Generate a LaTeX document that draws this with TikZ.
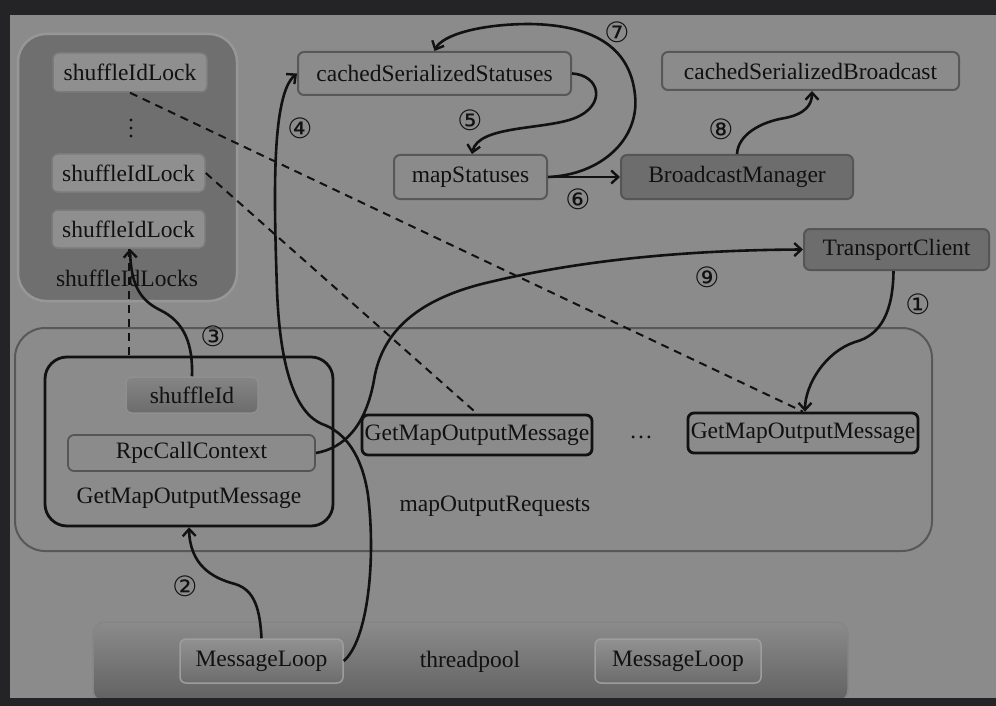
\documentclass[tikz,border=0pt]{standalone}
\usepackage{fontspec}
\setmainfont{Liberation Serif}
\newfontfamily\circfont{DejaVu Sans}
\usetikzlibrary{arrows.meta}
\definecolor{bggray}{HTML}{8B8B8B}
\definecolor{framec}{HTML}{242427}
\definecolor{groupc}{HTML}{6F6F6F}
\definecolor{inkc}{HTML}{111111}
\definecolor{edgec}{HTML}{585858}
\definecolor{lockfill}{HTML}{8F8F8F}
\definecolor{lockedge}{HTML}{7B7B7B}
\definecolor{darkfill}{HTML}{6D6D6D}
\definecolor{darkedge}{HTML}{555555}
\definecolor{shadetop}{HTML}{858585}
\definecolor{shadebot}{HTML}{6C6C6C}
\definecolor{haloc}{HTML}{979797}
\tikzset{
  lbl/.style={font=\fontsize{23.5}{27}\selectfont, text=inkc, inner sep=0pt},
  lockbox/.style={lbl, rounded corners=6pt, minimum width=153pt, minimum height=38pt, fill=lockfill, draw=lockedge, line width=1.5pt},
  plainbox/.style={lbl, rounded corners=6pt, fill=bggray, draw=edgec, line width=2pt},
  darkbox/.style={lbl, rounded corners=6pt, fill=darkfill, draw=darkedge, line width=2pt},
  blackbox/.style={lbl, rounded corners=6pt, draw=inkc, line width=2.8pt},
  shadebox/.style={lbl, rounded corners=6pt, top color=shadetop, bottom color=shadebot, draw=lockfill, line width=1.5pt},
  conn/.style={draw=inkc, line width=2.6pt, -{Straight Barb[length=7pt,width=13pt,line width=2.4pt]}},
  dashconn/.style={draw=inkc, line width=2pt, dash pattern=on 8pt off 6pt},
  num/.style={font=\circfont\fontsize{28}{28}\selectfont, text=inkc, inner sep=0pt},
}
\begin{document}
\begin{tikzpicture}[x=1pt,y=-1pt]
\useasboundingbox (0,0) rectangle (996,706);
\fill[bggray] (0,0) rectangle (996,706);

% shuffleIdLocks group
\node[draw=haloc, line width=2.5pt, fill=groupc, rounded corners=28pt,
      minimum width=219pt, minimum height=267pt, inner sep=0pt] (locks) at (127.5,167.5) {};
\node[lockbox, minimum width=154pt, minimum height=39pt] (lock1) at (130,72.5) {shuffleIdLock};
\node[lockbox] (lock2) at (128.5,173) {shuffleIdLock};
\node[lockbox] (lock3) at (128.5,229) {shuffleIdLock};
\foreach \yy in {120,128,136} \fill[inkc] (131,\yy) circle (1.6pt);
\node[lbl] (lockslbl) at (127,278) {shuffleIdLocks};

% top boxes
\node[plainbox, minimum width=273pt, minimum height=43pt] (css) at (434.5,73.5) {cachedSerializedStatuses};
\node[plainbox, minimum width=153pt, minimum height=44pt] (ms) at (470.5,177) {mapStatuses};
\node[darkbox, minimum width=232pt, minimum height=44pt] (bm) at (737,177) {BroadcastManager};
\node[plainbox, minimum width=297pt, minimum height=38pt] (csb) at (810.5,71) {cachedSerializedBroadcast};
\node[darkbox, minimum width=185pt, minimum height=41pt] (tc) at (896.5,249.5) {TransportClient};

% mapOutputRequests
\node[draw=edgec, line width=2pt, rounded corners=30pt, minimum width=917pt, minimum height=223pt, inner sep=0pt] (mor) at (473.5,439.5) {};
\node[draw=inkc, line width=2.8pt, rounded corners=22pt, minimum width=288pt, minimum height=169pt, inner sep=0pt] (gmc) at (189,441.5) {};
\node[shadebox, minimum width=132pt, minimum height=36pt] (sid) at (192,395) {shuffleId};
\node[plainbox, minimum width=247pt, minimum height=36pt, line width=1.8pt, draw=darkedge] (rpc) at (191.5,453) {RpcCallContext};
\node[lbl] (gmclbl) at (189,498) {GetMapOutputMessage};
\node[blackbox, minimum width=230pt, minimum height=40pt] (g2) at (477,435) {GetMapOutputMessage};
\node[lbl] (ell) at (641,437) {…};
\node[blackbox, minimum width=230pt, minimum height=40pt] (g3) at (803,433) {GetMapOutputMessage};
\node[lbl] (morlbl) at (495,506) {mapOutputRequests};

% threadpool
\node[rounded corners=12pt, top color=shadetop!95!white, bottom color=shadebot!90!black, draw=shadetop,
      line width=1.5pt, minimum width=755pt, minimum height=80pt, inner sep=0pt] (tp) at (470.5,662) {};
\node[shadebox, minimum width=163pt, minimum height=44pt, top color=shadetop!90!white, bottom color=shadebot, draw=shadetop!80!white] (ml1) at (261.5,661) {MessageLoop};
\node[lbl] (tplbl) at (470,662) {threadpool};
\node[shadebox, minimum width=166pt, minimum height=44pt, top color=shadetop!90!white, bottom color=shadebot, draw=shadetop!80!white] (ml2) at (678,661) {MessageLoop};

% dashed links
\draw[dashconn] (lock1.south) -- (g3.north);
\draw[dashconn] (lock2.east) -- (g2.north);
\draw[dashconn] (lock3.south) -- (lock3.south |- gmc.north);

% connectors
\draw[conn] (ml1.east) .. controls (368,640) and (376,560) .. (368,495)
  .. controls (362,455) and (345,432) .. (322,424)
  .. controls (296,413) and (280,370) .. (277,290)
  .. controls (274,200) and (271,95) .. (css.west);
\draw[conn] (rpc.east) .. controls (345,448) and (366,425) .. (374,380)
  .. controls (382,330) and (420,298) .. (490,282)
  .. controls (590,258) and (700,250) .. (tc.west);
\draw[conn] ([xshift=-3pt]tc.south) .. controls (893,310) and (882,335) .. (855,342)
  .. controls (825,352) and (805,385) .. ([xshift=2pt]g3.north);
\draw[conn] (ml1.north) .. controls (260,610) and (255,590) .. (235,584)
  .. controls (212,578) and (190,565) .. (gmc.south);
\draw[conn] (sid.north) .. controls (193,345) and (185,322) .. (160,310)
  .. controls (140,300) and (131,285) .. ([xshift=1.5pt]lock3.south);
\draw[conn] (css.east) .. controls (600,75) and (607,105) .. (575,118)
  .. controls (545,130) and (478,125) .. ([xshift=1.5pt]ms.north);
\draw[conn] (ms.east) .. controls (600,175) and (640,140) .. (635,95)
  .. controls (630,45) and (590,25) .. (530,24)
  .. controls (480,24) and (442,35) .. (css.north);
\draw[conn] (ms.east) -- (bm.west);
\draw[conn] (bm.north) .. controls (738,135) and (760,122) .. (785,118)
  .. controls (805,114) and (812,105) .. ([xshift=1.5pt]csb.south);

% step numbers
\node[num] (n7) at (617,32) {⑦};
\node[num] (n5) at (470,120) {⑤};
\node[num] (n6) at (578,199) {⑥};
\node[num] (n8) at (721,129) {⑧};
\node[num] (n9) at (707,277) {⑨};
\node[num] (n1) at (918,304) {①};
\node[num] (n4) at (300,128) {④};
\node[num] (n3) at (213,336) {③};
\node[num] (n2) at (185,586) {②};

% dark frame
\fill[framec] (0,0) rectangle (996,15);
\fill[framec] (0,0) rectangle (10,706);
\fill[framec] (0,698) rectangle (996,706);
\end{tikzpicture}
\end{document}
